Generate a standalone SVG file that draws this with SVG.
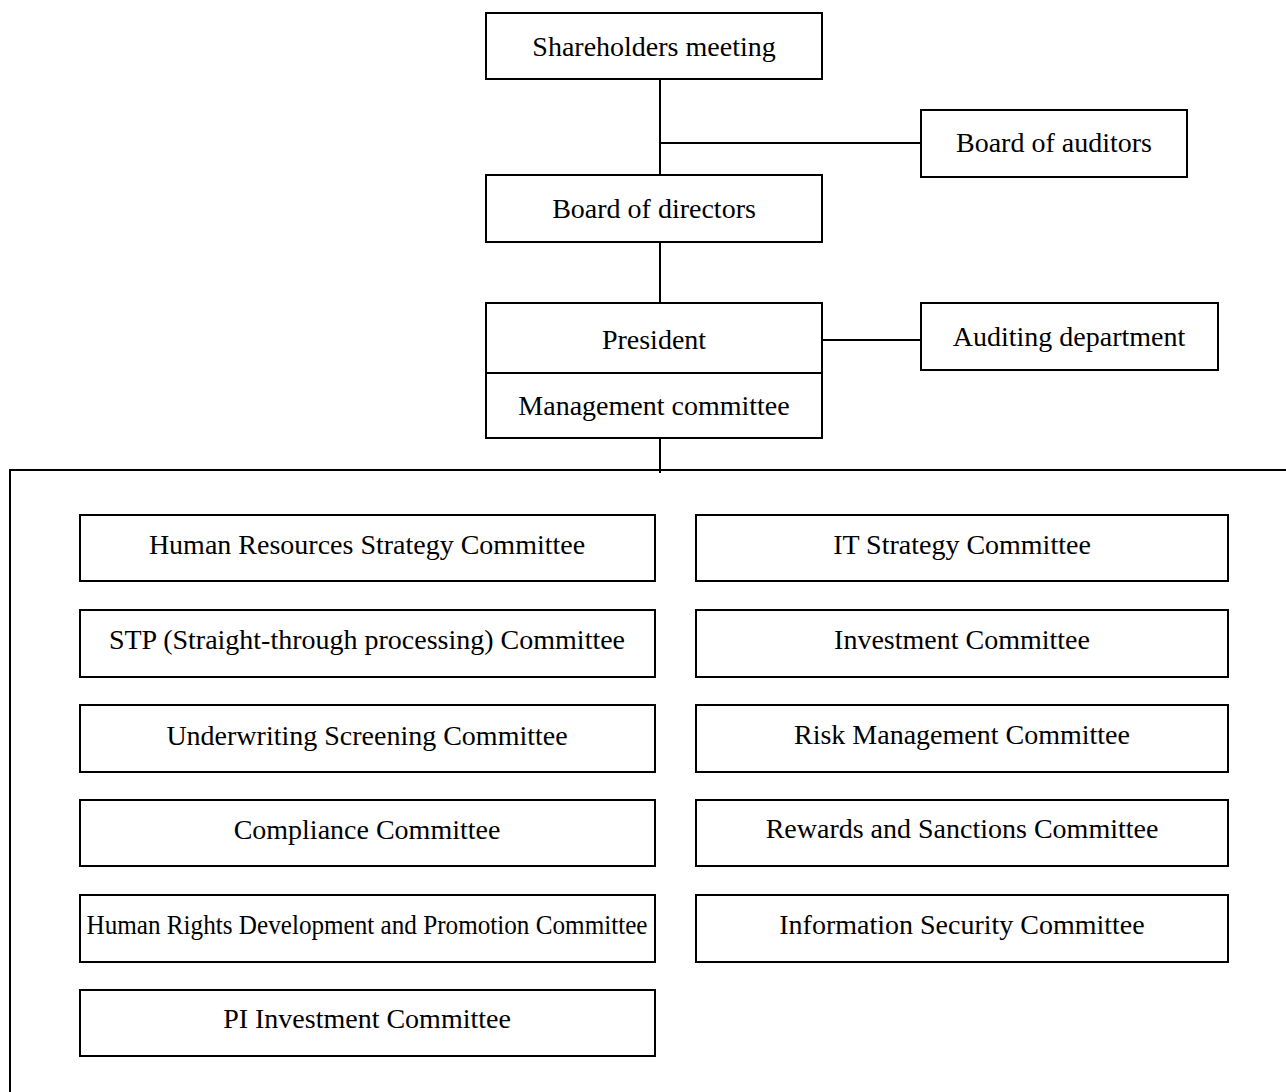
<svg xmlns="http://www.w3.org/2000/svg" width="1286" height="1092" viewBox="0 0 1286 1092">
<style>
.box{fill:#fff;stroke:#000;stroke-width:2}
.ln{stroke:#000;stroke-width:2;fill:none}
text{font-family:"Liberation Serif","Times New Roman",serif;font-size:28px;fill:#000;text-anchor:middle;dominant-baseline:central}
</style>
<rect width="1286" height="1092" fill="#fff"/>
<g id="connectors">
<path class="ln" d="M660 79V175M660 143H921M660 242V303M822 340H921M660 438V473M1286 470H10V1092"/>
</g>
<g id="n-shareholders"><rect class="box" x="486" y="13" width="336" height="66"/><text x="654" y="46">Shareholders meeting</text></g>
<g id="n-auditors"><rect class="box" x="921" y="110" width="266" height="67"/><text x="1054" y="142">Board of auditors</text></g>
<g id="n-directors"><rect class="box" x="486" y="175" width="336" height="67"/><text x="654" y="208">Board of directors</text></g>
<g id="n-president"><rect class="box" x="486" y="303" width="336" height="70"/><text x="654" y="339">President</text></g>
<g id="n-mgmt"><rect class="box" x="486" y="373" width="336" height="65"/><text x="654" y="405">Management committee</text></g>
<g id="n-auditdept"><rect class="box" x="921" y="303" width="297" height="67"/><text x="1069" y="336">Auditing department</text></g>
<g id="n-hr"><rect class="box" x="80" y="515" width="575" height="66"/><text x="367" y="544">Human Resources Strategy Committee</text></g>
<g id="n-stp"><rect class="box" x="80" y="610" width="575" height="67"/><text x="367" y="639">STP (Straight-through processing) Committee</text></g>
<g id="n-uw"><rect class="box" x="80" y="705" width="575" height="67"/><text x="367" y="735">Underwriting Screening Committee</text></g>
<g id="n-comp"><rect class="box" x="80" y="800" width="575" height="66"/><text x="367" y="829">Compliance Committee</text></g>
<g id="n-hrd"><rect class="box" x="80" y="895" width="575" height="67"/><text x="367" y="924" textLength="561" lengthAdjust="spacingAndGlyphs">Human Rights Development and Promotion Committee</text></g>
<g id="n-pi"><rect class="box" x="80" y="990" width="575" height="66"/><text x="367" y="1018">PI Investment Committee</text></g>
<g id="n-it"><rect class="box" x="696" y="515" width="532" height="66"/><text x="962" y="544">IT Strategy Committee</text></g>
<g id="n-inv"><rect class="box" x="696" y="610" width="532" height="67"/><text x="962" y="639">Investment Committee</text></g>
<g id="n-risk"><rect class="box" x="696" y="705" width="532" height="67"/><text x="962" y="734">Risk Management Committee</text></g>
<g id="n-rew"><rect class="box" x="696" y="800" width="532" height="66"/><text x="962" y="828">Rewards and Sanctions Committee</text></g>
<g id="n-info"><rect class="box" x="696" y="895" width="532" height="67"/><text x="962" y="924">Information Security Committee</text></g>
</svg>
